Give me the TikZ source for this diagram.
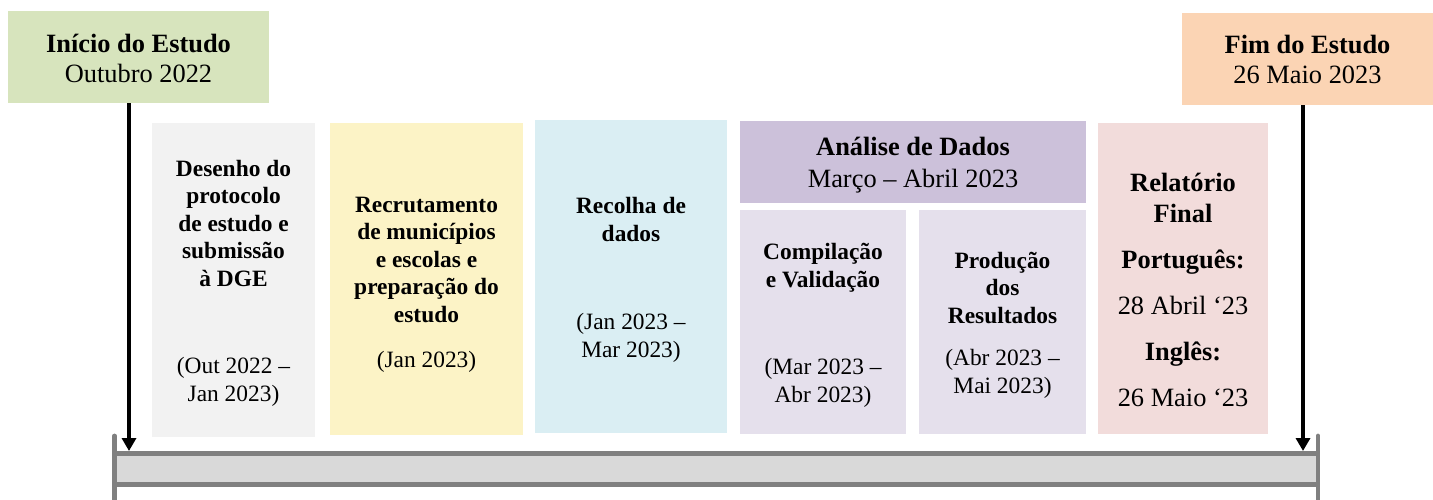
\documentclass[tikz,border=0pt]{standalone}
\usepackage{fontspec}
\setmainfont{Liberation Serif}
\usetikzlibrary{arrows.meta}
\definecolor{inicioc}{HTML}{D7E4BD}
\definecolor{fimc}{HTML}{FBD4B4}
\definecolor{desenhoc}{HTML}{F2F2F2}
\definecolor{recrutc}{HTML}{FCF3C6}
\definecolor{recolhac}{HTML}{DAEEF3}
\definecolor{analisec}{HTML}{CCC1DA}
\definecolor{subc}{HTML}{E5E0EC}
\definecolor{relatc}{HTML}{F2DCDB}
\definecolor{barc}{HTML}{D9D9D9}
\definecolor{barline}{HTML}{808080}
\tikzstyle{stage}=[rectangle, inner sep=0pt, draw=none]
\tikzstyle{txt}=[anchor=base, align=center, inner sep=0pt, font=\fontsize{11.7}{13.75}\selectfont]
\tikzstyle{head}=[anchor=base, align=center, inner sep=0pt, font=\fontsize{13.2}{15}\selectfont]
\tikzstyle{arrow}=[draw=black, line width=1.65pt, -{Triangle[length=6.5pt,width=7pt]}]
\tikzstyle{bar}=[draw=barline, line width=2.4pt]

\begin{document}
\begin{tikzpicture}[x=0.5pt, y=-0.5pt]
	\useasboundingbox (0,0) rectangle (1433,499);
	\begin{scope}
		% start and end
		\node (inicio) at (138.5,57)[stage, fill=inicioc, minimum width=130.5pt, minimum height=46pt] {};
		\node (fim) at (1307.5,59)[stage, fill=fimc, minimum width=125.5pt, minimum height=46pt] {};
		\node (tinicio) at (138.5,82)[head] {\textbf{Início do Estudo}\\Outubro 2022};
		\node (tfim) at (1307.5,83)[head] {\textbf{Fim do Estudo}\\26 Maio 2023};
		% phases
		\node (desenho) at (233.5,280)[stage, fill=desenhoc, minimum width=81.5pt, minimum height=157pt] {};
		\node (recrut) at (426.5,279)[stage, fill=recrutc, minimum width=96.5pt, minimum height=156pt] {};
		\node (recolha) at (631,276.5)[stage, fill=recolhac, minimum width=96pt, minimum height=156.5pt] {};
		\node (analise) at (913,162)[stage, fill=analisec, minimum width=173pt, minimum height=41pt] {};
		\node (compil) at (823,322)[stage, fill=subc, minimum width=83pt, minimum height=112pt] {};
		\node (producao) at (1002.5,322)[stage, fill=subc, minimum width=83.5pt, minimum height=112pt] {};
		\node (relat) at (1183,278.5)[stage, fill=relatc, minimum width=85pt, minimum height=155.5pt] {};
		% texts
		\node (tdesenho) at (233.5,286)[txt] {\textbf{Desenho do}\\\textbf{protocolo}\\\textbf{de estudo e}\\\textbf{submissão}\\\textbf{à DGE}};
		\node (ddesenho) at (233.5,401)[txt] {(Out 2022 --\\Jan 2023)};
		\node (trecrut) at (426.5,322)[txt] {\textbf{Recrutamento}\\\textbf{de municípios}\\\textbf{e escolas e}\\\textbf{preparação do}\\\textbf{estudo}};
		\node (drecrut) at (426.5,367)[txt] {(Jan 2023)};
		\node (trecolha) at (631,241)[txt] {\textbf{Recolha de}\\\textbf{dados}};
		\node (drecolha) at (631,357)[txt] {(Jan 2023 --\\Mar 2023)};
		\node (tanalise) at (913,187)[head] {\textbf{Análise de Dados}\\[1pt]Março -- Abril 2023};
		\node (tcompil) at (823,287)[txt] {\textbf{Compilação}\\\textbf{e Validação}};
		\node (dcompil) at (823,402)[txt] {(Mar 2023 --\\Abr 2023)};
		\node (tproducao) at (1002.5,323)[txt] {\textbf{Produção}\\\textbf{dos}\\\textbf{Resultados}};
		\node (dproducao) at (1002.5,393)[txt] {(Abr 2023 --\\Mai 2023)};
		\node (trelat) at (1183,406)[head] {\textbf{Relatório}\\[0.5pt]\textbf{Final}\\[8pt]\textbf{Português:}\\[8pt]28 Abril ‘23\\[8pt]\textbf{Inglês:}\\[8pt]26 Maio ‘23};
	\end{scope}
	\begin{scope}
		% time bar
		\coordinate (t0) at (129,451);
		\coordinate (t1) at (1303,451);
		\path[fill=barc] (114.5,453.5) rectangle (1318,484.5);
		\draw[bar] (114.5,453.5) -- (1318,453.5);
		\draw[bar] (114.5,484.5) -- (1318,484.5);
		\draw[bar, line cap=round] (114.5,436) -- (114.5,510);
		\draw[bar, line cap=round] (1318,436) -- (1318,510);
		\draw[arrow] (inicio.south -| t0) -- (t0);
		\draw[arrow] (fim.south -| t1) -- (t1);
	\end{scope}
\end{tikzpicture}
\end{document}
